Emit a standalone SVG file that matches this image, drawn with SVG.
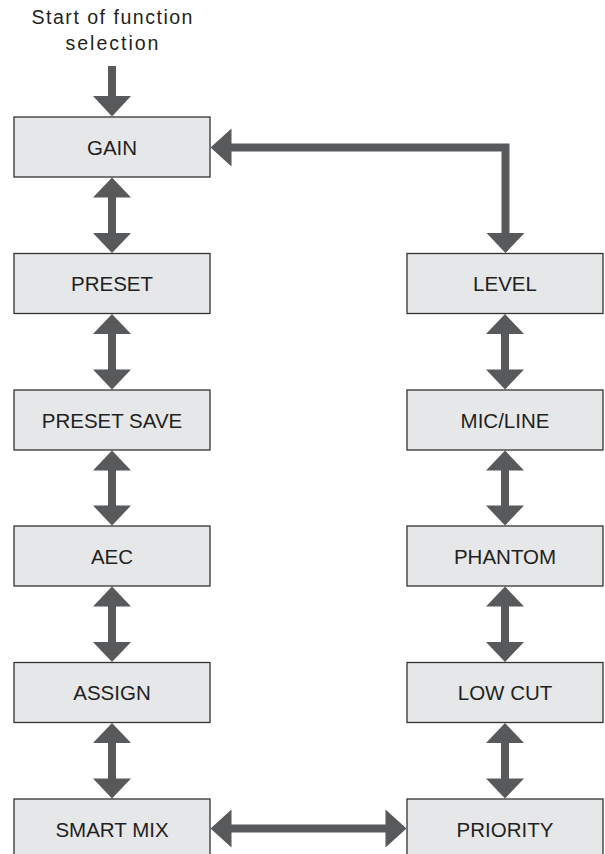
<svg xmlns="http://www.w3.org/2000/svg" width="605" height="854" viewBox="0 0 605 854">
<style>
.box{fill:#e6e7e8;stroke:#333333;stroke-width:1.3}
.lbl{font-family:"Liberation Sans",Arial,sans-serif;font-size:20.5px;fill:#231f20;text-anchor:middle}
.title{font-family:"Liberation Sans",Arial,sans-serif;font-size:19.6px;fill:#231f20;text-anchor:middle}
.arr{fill:#58595b}
</style>
<rect width="605" height="854" fill="#ffffff"/>
<g id="start-label">
<text class="title" x="112" y="24" textLength="161" lengthAdjust="spacing">Start of function</text>
<text class="title" x="112" y="50" textLength="93" lengthAdjust="spacing">selection</text>
</g>
<g id="connectors">
<polygon class="arr" points="108,66 116,66 116,96 131,96 112,116.5 93,96 108,96"/>
<polygon class="arr" points="210.5,147.5 231.5,128.5 231.5,143.5 509.5,143.5 509.5,233 524.5,233 505.5,253 486.5,233 501.5,233 501.5,151.5 231.5,151.5 231.5,166.5"/>
<polygon class="arr" points="112,177.5 131,197.5 116,197.5 116,233 131,233 112,253 93,233 108,233 108,197.5 93,197.5"/>
<polygon class="arr" points="112,314 131,334 116,334 116,369.5 131,369.5 112,389.5 93,369.5 108,369.5 108,334 93,334"/>
<polygon class="arr" points="112,450.5 131,470.5 116,470.5 116,505.5 131,505.5 112,525.5 93,505.5 108,505.5 108,470.5 93,470.5"/>
<polygon class="arr" points="112,586.5 131,606.5 116,606.5 116,642 131,642 112,662 93,642 108,642 108,606.5 93,606.5"/>
<polygon class="arr" points="112,723 131,743 116,743 116,778.5 131,778.5 112,798.5 93,778.5 108,778.5 108,743 93,743"/>
<polygon class="arr" points="505,314 524,334 509,334 509,369.5 524,369.5 505,389.5 486,369.5 501,369.5 501,334 486,334"/>
<polygon class="arr" points="505,450.5 524,470.5 509,470.5 509,505.5 524,505.5 505,525.5 486,505.5 501,505.5 501,470.5 486,470.5"/>
<polygon class="arr" points="505,586.5 524,606.5 509,606.5 509,642 524,642 505,662 486,642 501,642 501,606.5 486,606.5"/>
<polygon class="arr" points="505,723 524,743 509,743 509,778.5 524,778.5 505,798.5 486,778.5 501,778.5 501,743 486,743"/>
<polygon class="arr" points="210.5,828.5 231.5,809.5 231.5,824.5 385.5,824.5 385.5,809.5 406.5,828.5 385.5,847.5 385.5,832.5 231.5,832.5 231.5,847.5"/>
</g>
<g id="gain"><rect class="box" x="14" y="117" width="196" height="60"/><text class="lbl" x="112" y="154.5">GAIN</text></g>
<g id="preset"><rect class="box" x="14" y="253.5" width="196" height="60"/><text class="lbl" x="112" y="291">PRESET</text></g>
<g id="preset-save"><rect class="box" x="14" y="390" width="196" height="60"/><text class="lbl" x="112" y="427.5">PRESET SAVE</text></g>
<g id="aec"><rect class="box" x="14" y="526" width="196" height="60"/><text class="lbl" x="112" y="563.5">AEC</text></g>
<g id="assign"><rect class="box" x="14" y="662.5" width="196" height="60"/><text class="lbl" x="112" y="700">ASSIGN</text></g>
<g id="smart-mix"><rect class="box" x="14" y="799" width="196" height="60"/><text class="lbl" x="112" y="836.5">SMART MIX</text></g>
<g id="level"><rect class="box" x="407" y="253.5" width="196" height="60"/><text class="lbl" x="505" y="291">LEVEL</text></g>
<g id="mic-line"><rect class="box" x="407" y="390" width="196" height="60"/><text class="lbl" x="505" y="427.5">MIC/LINE</text></g>
<g id="phantom"><rect class="box" x="407" y="526" width="196" height="60"/><text class="lbl" x="505" y="563.5">PHANTOM</text></g>
<g id="low-cut"><rect class="box" x="407" y="662.5" width="196" height="60"/><text class="lbl" x="505" y="700">LOW CUT</text></g>
<g id="priority"><rect class="box" x="407" y="799" width="196" height="60"/><text class="lbl" x="505" y="836.5">PRIORITY</text></g>
</svg>
